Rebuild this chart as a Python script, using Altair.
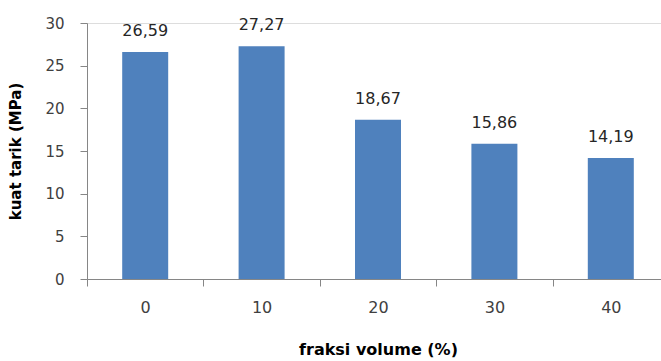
import altair as alt
import pandas as pd

# Tensile strength against volume fraction
fraksi = ["0", "10", "20", "30", "40"]
kuat_tarik = [26.59, 27.27, 18.67, 15.86, 14.19]

df = pd.DataFrame({"fraksi": fraksi, "kuat": kuat_tarik})

FONT = "DejaVu Sans"
AXIS_GREY = "#868686"
BAR_BLUE = "#4F81BD"

x_enc = alt.X(
    "fraksi:N",
    sort=fraksi,
    scale=alt.Scale(paddingInner=0, paddingOuter=0, range=[0, 582]),
    axis=alt.Axis(
        title="fraksi volume (%)",
        labelAngle=0,
        tickBand="extent",
        tickSize=7,
        tickColor=AXIS_GREY,
        domainColor=AXIS_GREY,
        labelFont=FONT,
        labelFontSize=16,
        labelColor="#404040",
        labelPadding=13,
        titleFont=FONT,
        titleFontSize=16,
        titleFontWeight="bold",
        titleColor="#000000",
        titleBaseline="top",
        titleX=291,
        titleY=62,
    ),
)

y_enc = alt.Y(
    "kuat:Q",
    scale=alt.Scale(domain=[0, 30], nice=False),
    axis=alt.Axis(
        title="kuat tarik (MPa)",
        values=[0, 5, 10, 15, 20, 25, 30],
        grid=False,
        tickSize=7,
        tickColor=AXIS_GREY,
        domainColor=AXIS_GREY,
        labelFont=FONT,
        labelFontSize=15,
        labelColor="#404040",
        labelPadding=16,
        titleFont=FONT,
        titleFontSize=15,
        titleFontWeight="bold",
        titleColor="#000000",
        titleBaseline="middle",
        titleX=-72,
        titleY=128,
    ),
)

bars = alt.Chart(df).mark_bar(color=BAR_BLUE, size=46).encode(x=x_enc, y=y_enc)

labels = (
    alt.Chart(df)
    .transform_calculate(label="replace(format(datum.kuat, '.2f'), '.', ',')")
    .mark_text(
        font=FONT,
        fontSize=16,
        color="#262626",
        baseline="alphabetic",
        align="center",
        dy=-16,
    )
    .encode(x=alt.X("fraksi:N", sort=fraksi), y="kuat:Q", text="label:N")
)

chart = (
    alt.layer(bars, labels)
    .properties(
        width=574,
        height=256,
        autosize=alt.AutoSizeParams(type="none"),
        padding={"left": 87, "top": 23, "right": 0, "bottom": 82},
    )
    .configure_view(stroke=None)
    .configure(background="white")
)

chart.save("out.html", embed_options={"renderer": "svg", "actions": False})
